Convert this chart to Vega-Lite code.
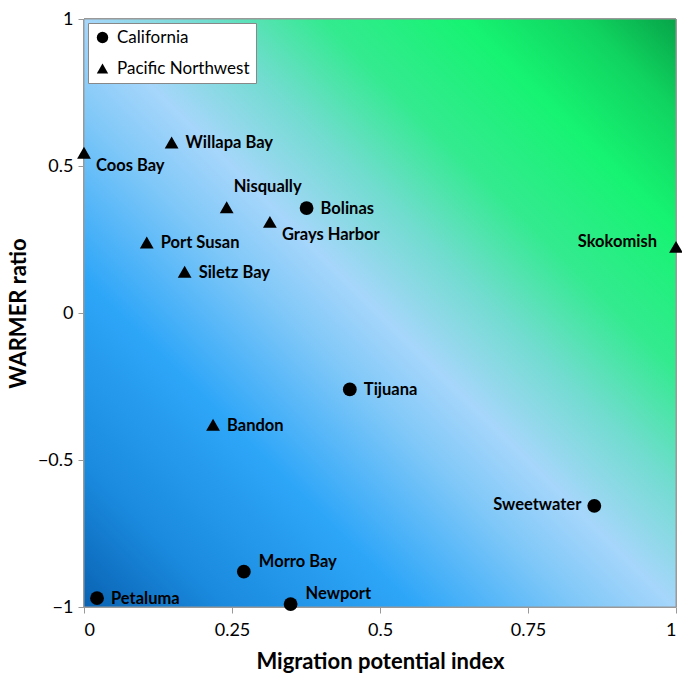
{
  "$schema": "https://vega.github.io/schema/vega-lite/v6.json",
  "width": 592,
  "height": 588,
  "autosize": {"type": "none"},
  "padding": {"left": 84, "top": 19, "right": 6, "bottom": 66},
  "background": "white",
  "config": {
    "view": {"stroke": null},
    "font": "Lato"
  },
  "data": {
    "values": [
      {"site": "Coos Bay", "region": "Pacific Northwest", "mpi": 0.0, "warmer": 0.545},
      {"site": "Willapa Bay", "region": "Pacific Northwest", "mpi": 0.148, "warmer": 0.58},
      {"site": "Nisqually", "region": "Pacific Northwest", "mpi": 0.241, "warmer": 0.36},
      {"site": "Bolinas", "region": "California", "mpi": 0.376, "warmer": 0.357},
      {"site": "Grays Harbor", "region": "Pacific Northwest", "mpi": 0.314, "warmer": 0.31},
      {"site": "Port Susan", "region": "Pacific Northwest", "mpi": 0.106, "warmer": 0.24},
      {"site": "Siletz Bay", "region": "Pacific Northwest", "mpi": 0.17, "warmer": 0.14},
      {"site": "Skokomish", "region": "Pacific Northwest", "mpi": 1.0, "warmer": 0.225},
      {"site": "Tijuana", "region": "California", "mpi": 0.449, "warmer": -0.26},
      {"site": "Bandon", "region": "Pacific Northwest", "mpi": 0.218, "warmer": -0.38},
      {"site": "Sweetwater", "region": "California", "mpi": 0.862, "warmer": -0.656},
      {"site": "Morro Bay", "region": "California", "mpi": 0.27, "warmer": -0.88},
      {"site": "Petaluma", "region": "California", "mpi": 0.022, "warmer": -0.97},
      {"site": "Newport", "region": "California", "mpi": 0.349, "warmer": -0.99}
    ]
  },
  "encoding": {
    "x": {
      "field": "mpi", "type": "quantitative",
      "scale": {"domain": [0, 1], "nice": false, "zero": false},
      "axis": {
        "title": "Migration potential index",
        "values": [0, 0.25, 0.5, 0.75, 1],
        "labelExpr": "format(datum.value, '~g')",
        "grid": false,
        "domainColor": "#999999",
        "tickColor": "#999999",
        "tickSize": 6,
        "labelFont": "Lato",
        "labelFontSize": 18,
        "labelColor": "#000000",
        "labelPadding": 8,
        "titleFont": "Lato",
        "titleFontSize": 22,
        "titleFontWeight": "bold",
        "titleColor": "#000000",
        "titlePadding": 12
      }
    },
    "y": {
      "field": "warmer", "type": "quantitative",
      "scale": {"domain": [-1, 1], "nice": false, "zero": false},
      "axis": {
        "title": "WARMER ratio",
        "values": [-1, -0.5, 0, 0.5, 1],
        "labelExpr": "replace(format(datum.value, '~g'), '-', '\u2212')",
        "grid": false,
        "domainColor": "#999999",
        "tickColor": "#999999",
        "tickSize": 6,
        "labelFont": "Lato",
        "labelFontSize": 18,
        "labelColor": "#000000",
        "labelPadding": 5,
        "titleFont": "Lato",
        "titleFontSize": 22,
        "titleFontWeight": "bold",
        "titleColor": "#000000",
        "titlePadding": 7
      }
    }
  },
  "layer": [
    {
      "mark": {
        "type": "rect",
        "stroke": "#999999",
        "strokeWidth": 1,
        "fill": {
          "gradient": "linear",
          "x1": 0, "y1": 1, "x2": 1, "y2": 0,
          "stops": [
            {"offset": 0, "color": "#0a62b2"},
            {"offset": 0.12, "color": "#1a8ade"},
            {"offset": 0.28, "color": "#2ea6f8"},
            {"offset": 0.42, "color": "#80c8f8"},
            {"offset": 0.5, "color": "#a6d6fb"},
            {"offset": 0.6, "color": "#72dcd0"},
            {"offset": 0.7, "color": "#34ea90"},
            {"offset": 0.82, "color": "#16f372"},
            {"offset": 0.92, "color": "#10d460"},
            {"offset": 1, "color": "#07a448"}
          ]
        }
      },
      "encoding": {
        "x": {"datum": 0, "type": "quantitative"},
        "x2": {"datum": 1},
        "y": {"datum": -1, "type": "quantitative"},
        "y2": {"datum": 1}
      }
    },
    {
      "mark": {"type": "point", "filled": true, "opacity": 1, "size": 190, "color": "#000000"},
      "encoding": {
        "shape": {
          "field": "region", "type": "nominal",
          "scale": {"domain": ["California", "Pacific Northwest"], "range": ["circle", "triangle-up"]},
          "legend": {
            "title": null,
            "orient": "top-left",
            "offset": 4,
            "padding": 6,
            "fillColor": "#ffffff",
            "strokeColor": "#888888",
            "labelFont": "Lato",
            "labelFontSize": 17,
            "labelColor": "#000000",
            "symbolSize": 130,
            "symbolFillColor": "#000000",
            "symbolStrokeColor": "#000000",
            "labelOffset": 6,
            "rowPadding": 12
          }
        }
      }
    },
    {
      "transform": [{"filter": {"field": "site", "oneOf": ["Willapa Bay", "Bolinas", "Port Susan", "Siletz Bay", "Tijuana", "Bandon", "Petaluma"]}}],
      "mark": {"type": "text", "align": "left", "baseline": "middle", "dx": 14, "dy": 1, "font": "Lato", "fontSize": 16.5, "fontWeight": "bold", "color": "#000000"},
      "encoding": {"text": {"field": "site"}}
    },
    {
      "transform": [{"filter": {"field": "site", "oneOf": ["Morro Bay", "Newport"]}}],
      "mark": {"type": "text", "align": "left", "baseline": "middle", "dx": 15, "dy": -10, "font": "Lato", "fontSize": 16.5, "fontWeight": "bold", "color": "#000000"},
      "encoding": {"text": {"field": "site"}}
    },
    {
      "transform": [{"filter": {"field": "site", "oneOf": ["Nisqually"]}}],
      "mark": {"type": "text", "align": "left", "baseline": "middle", "dx": 7, "dy": -20, "font": "Lato", "fontSize": 16.5, "fontWeight": "bold", "color": "#000000"},
      "encoding": {"text": {"field": "site"}}
    },
    {
      "transform": [{"filter": {"field": "site", "oneOf": ["Grays Harbor", "Coos Bay"]}}],
      "mark": {"type": "text", "align": "left", "baseline": "middle", "dx": 12, "dy": 13, "font": "Lato", "fontSize": 16.5, "fontWeight": "bold", "color": "#000000"},
      "encoding": {"text": {"field": "site"}}
    },
    {
      "transform": [{"filter": {"field": "site", "oneOf": ["Skokomish"]}}],
      "mark": {"type": "text", "align": "right", "baseline": "middle", "dx": -19, "dy": -5, "font": "Lato", "fontSize": 16.5, "fontWeight": "bold", "color": "#000000"},
      "encoding": {"text": {"field": "site"}}
    },
    {
      "transform": [{"filter": {"field": "site", "oneOf": ["Sweetwater"]}}],
      "mark": {"type": "text", "align": "right", "baseline": "middle", "dx": -13, "dy": -1, "font": "Lato", "fontSize": 16.5, "fontWeight": "bold", "color": "#000000"},
      "encoding": {"text": {"field": "site"}}
    }
  ]
}
